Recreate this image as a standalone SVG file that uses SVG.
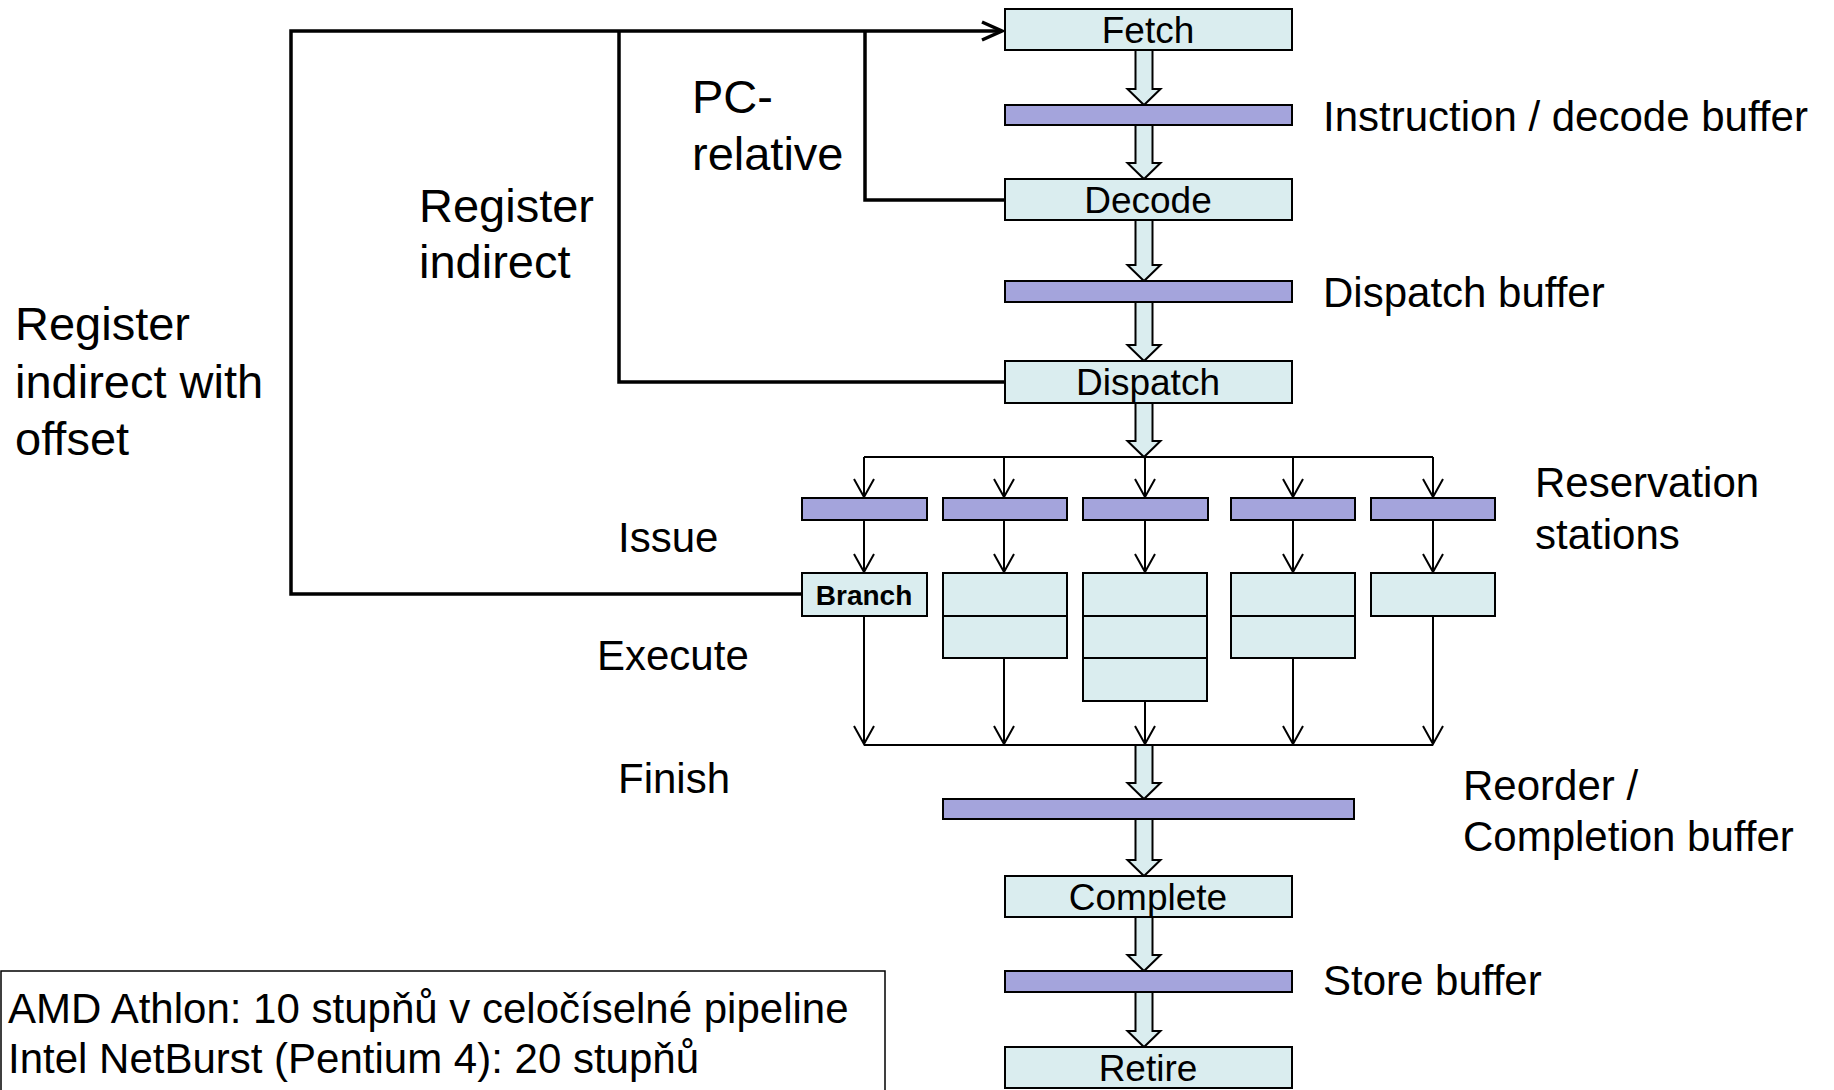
<svg xmlns="http://www.w3.org/2000/svg" width="1834" height="1090" viewBox="0 0 1834 1090">
<style>
text{font-family:"Liberation Sans",Arial,sans-serif;fill:#000}
.stage{fill:#DAEDEF;stroke:#000;stroke-width:2}
.buf{fill:#A4A4DC;stroke:#000;stroke-width:2}
.blk{fill:#DAEDEF;stroke:#000;stroke-width:2;stroke-linejoin:miter}
.thin{fill:none;stroke:#000;stroke-width:2}
.thick{fill:none;stroke:#000;stroke-width:3.5}
.sname{font-size:37px;text-anchor:middle}
.lbl{font-size:42px}
.fb{font-size:47px}
</style>
<defs>
<marker id="v" viewBox="-22 -12 24 24" refX="0" refY="0" markerWidth="24" markerHeight="24" markerUnits="userSpaceOnUse" orient="auto">
<path d="M-18,-10 L0,0 L-18,10" fill="none" stroke="#000" stroke-width="2"/>
</marker>
<marker id="vt" viewBox="-24 -12 26 24" refX="0" refY="0" markerWidth="26" markerHeight="24" markerUnits="userSpaceOnUse" orient="auto">
<path d="M-20,-9 L0,0 L-20,9" fill="none" stroke="#000" stroke-width="3.5"/>
</marker>
</defs>
<rect width="1834" height="1090" fill="#fff"/>

<g id="connectors">
<path class="thick" d="M802,594 H291 V31 H1002" marker-end="url(#vt)"/>
<path class="thick" d="M1005,382 H619 V31"/>
<path class="thick" d="M1005,200 H865 V31"/>
<path class="thin" d="M864,457 H1433"/>
<path class="thin" d="M864,457 V497" marker-end="url(#v)"/>
<path class="thin" d="M1004,457 V497" marker-end="url(#v)"/>
<path class="thin" d="M1145,457 V497" marker-end="url(#v)"/>
<path class="thin" d="M1293,457 V497" marker-end="url(#v)"/>
<path class="thin" d="M1433,457 V497" marker-end="url(#v)"/>
<path class="thin" d="M864,520 V572" marker-end="url(#v)"/>
<path class="thin" d="M1004,520 V572" marker-end="url(#v)"/>
<path class="thin" d="M1145,520 V572" marker-end="url(#v)"/>
<path class="thin" d="M1293,520 V572" marker-end="url(#v)"/>
<path class="thin" d="M1433,520 V572" marker-end="url(#v)"/>
<path class="thin" d="M864,616 V744" marker-end="url(#v)"/>
<path class="thin" d="M1004,658 V744" marker-end="url(#v)"/>
<path class="thin" d="M1145,701 V744" marker-end="url(#v)"/>
<path class="thin" d="M1293,658 V744" marker-end="url(#v)"/>
<path class="thin" d="M1433,616 V744" marker-end="url(#v)"/>
<path class="thin" d="M864,745 H1433"/>
<polygon class="blk" points="1135.5,50 1152.5,50 1152.5,89 1160.5,89 1144,105 1127.5,89 1135.5,89"/>
<polygon class="blk" points="1135.5,125 1152.5,125 1152.5,163 1160.5,163 1144,179 1127.5,163 1135.5,163"/>
<polygon class="blk" points="1135.5,220 1152.5,220 1152.5,265 1160.5,265 1144,281 1127.5,265 1135.5,265"/>
<polygon class="blk" points="1135.5,302 1152.5,302 1152.5,345 1160.5,345 1144,361 1127.5,345 1135.5,345"/>
<polygon class="blk" points="1135.5,403 1152.5,403 1152.5,441 1160.5,441 1144,457 1127.5,441 1135.5,441"/>
<polygon class="blk" points="1135.5,745 1152.5,745 1152.5,783 1160.5,783 1144,799 1127.5,783 1135.5,783"/>
<polygon class="blk" points="1135.5,819 1152.5,819 1152.5,860 1160.5,860 1144,876 1127.5,860 1135.5,860"/>
<polygon class="blk" points="1135.5,917 1152.5,917 1152.5,955 1160.5,955 1144,971 1127.5,955 1135.5,955"/>
<polygon class="blk" points="1135.5,992 1152.5,992 1152.5,1031 1160.5,1031 1144,1047 1127.5,1031 1135.5,1031"/>
</g>

<g id="fetch"><rect class="stage" x="1005" y="9" width="287" height="41"/><text class="sname" x="1148" y="43">Fetch</text></g>
<g id="instr-buffer"><rect class="buf" x="1005" y="105" width="287" height="20"/></g>
<g id="decode"><rect class="stage" x="1005" y="179" width="287" height="41"/><text class="sname" x="1148" y="213">Decode</text></g>
<g id="dispatch-buffer"><rect class="buf" x="1005" y="281" width="287" height="21"/></g>
<g id="dispatch"><rect class="stage" x="1005" y="361" width="287" height="42"/><text class="sname" x="1148" y="395">Dispatch</text></g>

<g id="rs1"><rect class="buf" x="802" y="498" width="125" height="22"/></g>
<g id="rs2"><rect class="buf" x="943" y="498" width="124" height="22"/></g>
<g id="rs3"><rect class="buf" x="1083" y="498" width="125" height="22"/></g>
<g id="rs4"><rect class="buf" x="1231" y="498" width="124" height="22"/></g>
<g id="rs5"><rect class="buf" x="1371" y="498" width="124" height="22"/></g>

<g id="branch"><rect class="stage" x="802" y="573" width="125" height="43"/><text x="864" y="605" text-anchor="middle" font-size="28" font-weight="bold">Branch</text></g>
<g id="fu2"><rect class="stage" x="943" y="573" width="124" height="43"/><rect class="stage" x="943" y="616" width="124" height="42"/></g>
<g id="fu3"><rect class="stage" x="1083" y="573" width="124" height="43"/><rect class="stage" x="1083" y="616" width="124" height="42"/><rect class="stage" x="1083" y="658" width="124" height="43"/></g>
<g id="fu4"><rect class="stage" x="1231" y="573" width="124" height="43"/><rect class="stage" x="1231" y="616" width="124" height="42"/></g>
<g id="fu5"><rect class="stage" x="1371" y="573" width="124" height="43"/></g>

<g id="rob"><rect class="buf" x="943" y="799" width="411" height="20"/></g>
<g id="complete"><rect class="stage" x="1005" y="876" width="287" height="41"/><text class="sname" x="1148" y="910">Complete</text></g>
<g id="store-buffer"><rect class="buf" x="1005" y="971" width="287" height="21"/></g>
<g id="retire"><rect class="stage" x="1005" y="1047" width="287" height="41"/><text class="sname" x="1148" y="1081">Retire</text></g>

<g id="labels">
<text class="lbl" x="1323" y="131">Instruction / decode buffer</text>
<text class="lbl" x="1323" y="307">Dispatch buffer</text>
<text class="lbl" x="1535" y="497">Reservation</text>
<text class="lbl" x="1535" y="549">stations</text>
<text class="lbl" x="1463" y="800">Reorder /</text>
<text class="lbl" x="1463" y="851">Completion buffer</text>
<text class="lbl" x="1323" y="995">Store buffer</text>
<text class="lbl" x="618" y="552">Issue</text>
<text class="lbl" x="597" y="670">Execute</text>
<text class="lbl" x="618" y="793">Finish</text>
<text class="fb" x="692" y="113">PC-</text>
<text class="fb" x="692" y="170">relative</text>
<text class="fb" x="419" y="222">Register</text>
<text class="fb" x="419" y="278">indirect</text>
<text class="fb" x="15" y="340">Register</text>
<text class="fb" x="15" y="398">indirect with</text>
<text class="fb" x="15" y="455">offset</text>
</g>

<g id="note">
<rect x="1" y="971" width="884" height="125" fill="#fff" stroke="#000" stroke-width="1.5"/>
<text class="lbl" x="8" y="1023">AMD Athlon: 10 stupňů v celočíselné pipeline</text>
<text class="lbl" x="8" y="1073">Intel NetBurst (Pentium 4): 20 stupňů</text>
</g>
</svg>
